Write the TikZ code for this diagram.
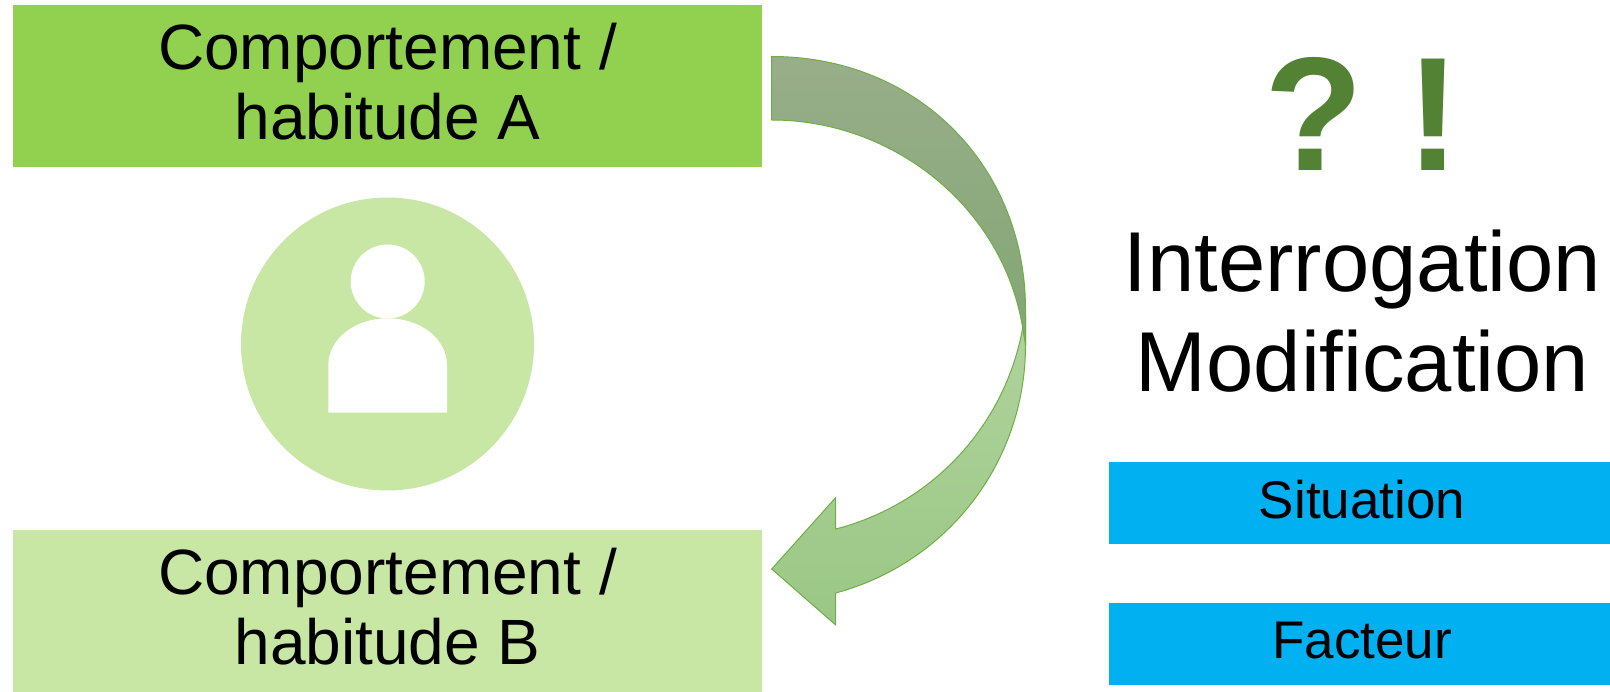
\documentclass[tikz,border=0pt]{standalone}
\usepackage{fontspec}
\setmainfont{Liberation Sans}
\definecolor{greenA}{HTML}{92D050}
\definecolor{greenB}{HTML}{C8E6A4}
\definecolor{cyanbox}{HTML}{00B0F0}
\definecolor{markgreen}{HTML}{548235}
\definecolor{arrowedge}{HTML}{70AD47}
\definecolor{lowtop}{RGB}{176,211,157}
\definecolor{lowbot}{RGB}{154,199,133}
\definecolor{uptop}{RGB}{152,174,138}
\definecolor{upbot}{RGB}{131,166,116}
\tikzset{
  boxbase/.style={rectangle,inner sep=0pt,align=center,text=black},
  habitbox/.style={boxbase,minimum width=749pt,minimum height=162pt,text depth=10pt,font=\fontsize{64}{70}\selectfont},
  tagbox/.style={boxbase,fill=cyanbox,minimum width=501pt,minimum height=82pt,text depth=7pt,font=\fontsize{53}{60}\selectfont},
  markglyph/.style={inner sep=0pt,anchor=base,text=markgreen,font=\fontsize{162}{160}\selectfont\bfseries},
  bigtext/.style={inner sep=0pt,align=center,text=black,font=\fontsize{85}{99.5}\selectfont},
  arrowpart/.style={draw=arrowedge,line width=1pt,line join=miter}
}
\begin{document}
\begin{tikzpicture}[x=1pt,y=-1pt]
\useasboundingbox (0,0) rectangle (1610,692);
\node[habitbox,fill=greenA] (habitA) at (387.5,86.5) {Comportement /\\habitude A};
\node[habitbox,fill=greenB] (habitB) at (387.5,611) {Comportement /\\habitude B};
% person
\fill[greenB] (387.5,344) circle[radius=146.5];
\fill[white] (387.7,281.5) circle[radius=37];
\fill[white] (328.3,412.7) -- (328.3,365) .. controls (328.3,339) and (355,318.3) .. (387.7,318.3)
  .. controls (420.5,318.3) and (447,339) .. (447,365) -- (447,412.7) -- cycle;
% arrow, lower part
\shadedraw[arrowpart,top color=lowtop,bottom color=lowbot]
  (1022.7,328) .. controls (1005,425) and (933,504) .. (835.7,529)
  -- (835.7,497.6) -- (771.7,569) -- (835.7,625) -- (835.7,593)
  .. controls (947,563) and (1025.5,463) .. (1025.5,345) -- (1025.5,320) -- cycle;
% arrow, upper part
\shadedraw[arrowpart,top color=uptop,bottom color=upbot]
  (771.7,56.5) .. controls (916.7,56.5) and (1025.5,165) .. (1025.5,310) -- (1025.5,345) -- (1022.7,328)
  .. controls (1003,207) and (893.3,120) .. (771.7,120) -- cycle;
% right column
\node[markglyph] (qmark) at (1314,170.5) {?};
\node[markglyph] (emark) at (1433,170.5) {!};
\node[bigtext] (words) at (1362.5,311) {Interrogation\\Modification};
\node[tagbox] (situation) at (1359.5,503) {\hspace*{5pt}Situation};
\node[tagbox] (facteur) at (1359.5,644) {\hspace*{5pt}Facteur};
\end{tikzpicture}
\end{document}
